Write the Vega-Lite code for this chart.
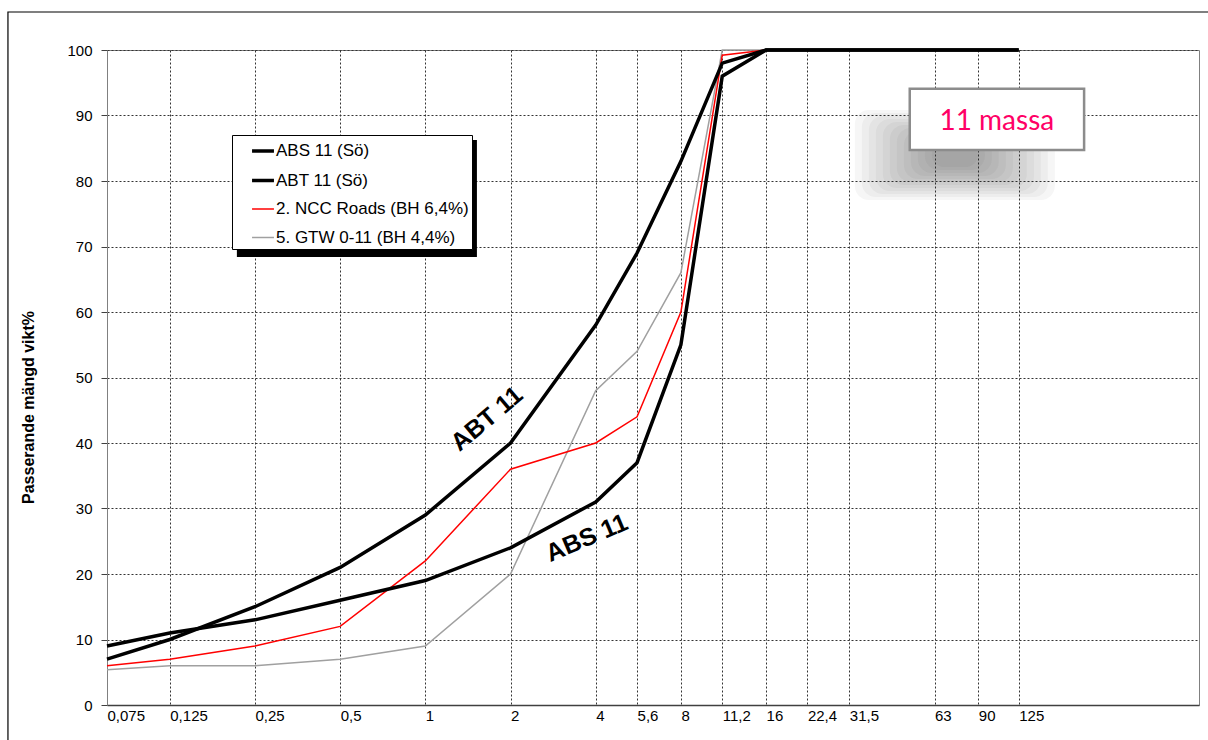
{
  "$schema": "https://vega.github.io/schema/vega-lite/v6.json",
  "width": 1092,
  "height": 655,
  "autosize": {"type": "none"},
  "padding": {"left": 107, "top": 50, "right": 9, "bottom": 35},
  "background": "white",
  "config": {
    "font": "Liberation Sans",
    "view": {"stroke": "#808080", "strokeWidth": 1}
  },
  "encoding": {
    "x": {
      "field": "sieve",
      "type": "quantitative",
      "scale": {"type": "log", "domain": [0.075, 542], "nice": false},
      "axis": {
        "values": [0.075, 0.125, 0.25, 0.5, 1, 2, 4, 5.6, 8, 11.2, 16, 22.4, 31.5, 63, 90, 125],
        "labelExpr": "replace(toString(datum.value), '.', ',')",
        "title": null,
        "ticks": false,
        "tickSize": 0,
        "grid": true,
        "gridDash": [2, 2],
        "gridColor": "#333333",
        "gridWidth": 1,
        "domainColor": "#404040",
        "domainWidth": 1.5,
        "labelAlign": "left",
        "labelDx": 5,
        "labelPadding": 3,
        "labelFontSize": 15,
        "labelColor": "#000000",
        "labelFont": "Liberation Sans",
        "labelOverlap": false,
        "labelFlush": false
      }
    },
    "y": {
      "field": "passing",
      "type": "quantitative",
      "scale": {"domain": [0, 100], "nice": false, "zero": false},
      "axis": {
        "values": [0, 10, 20, 30, 40, 50, 60, 70, 80, 90, 100],
        "title": "Passerande mängd  vikt%",
        "titleFont": "Liberation Sans",
        "titleFontSize": 16,
        "titleFontWeight": "bold",
        "titleColor": "#000000",
        "titleX": -74,
        "titleY": 357,
        "titleAngle": -90,
        "titleAlign": "center",
        "titleBaseline": "alphabetic",
        "grid": true,
        "gridDash": [2, 2],
        "gridColor": "#333333",
        "gridWidth": 1,
        "domainColor": "#808080",
        "tickSize": 6,
        "tickColor": "#404040",
        "labelPadding": 9,
        "labelFontSize": 15,
        "labelColor": "#000000",
        "labelFont": "Liberation Sans"
      }
    }
  },
  "layer": [
    {
      "data": {"values": [{"sieve": 0.0335, "sieve2": 5000, "passing": 105.8, "passing2": -10}]},
      "mark": {"type": "rect", "filled": false, "stroke": "#000000", "strokeWidth": 1.2, "clip": false},
      "encoding": {
        "x2": {"field": "sieve2"},
        "y2": {"field": "passing2"}
      }
    },
    {
      "data": {"values": [
        {"sieve": 32.95, "sieve2": 167.7, "passing": 90.84, "passing2": 77.10},
        {"sieve": 34.88, "sieve2": 158.4, "passing": 90.38, "passing2": 77.56},
        {"sieve": 36.92, "sieve2": 149.6, "passing": 89.92, "passing2": 78.02},
        {"sieve": 39.09, "sieve2": 141.4, "passing": 89.47, "passing2": 78.47},
        {"sieve": 41.38, "sieve2": 133.5, "passing": 89.01, "passing2": 78.93},
        {"sieve": 43.81, "sieve2": 126.1, "passing": 88.55, "passing2": 79.39},
        {"sieve": 46.37, "sieve2": 119.2, "passing": 88.09, "passing2": 79.85},
        {"sieve": 49.10, "sieve2": 112.6, "passing": 87.63, "passing2": 80.31},
        {"sieve": 51.97, "sieve2": 106.3, "passing": 87.18, "passing2": 80.76},
        {"sieve": 55.02, "sieve2": 100.4, "passing": 86.72, "passing2": 81.22},
        {"sieve": 58.24, "sieve2": 94.89, "passing": 86.26, "passing2": 81.68},
        {"sieve": 61.66, "sieve2": 89.63, "passing": 85.80, "passing2": 82.14}
      ]},
      "mark": {"type": "rect", "fill": "#303030", "opacity": 0.045, "cornerRadius": 14, "clip": false},
      "encoding": {
        "x2": {"field": "sieve2"},
        "y2": {"field": "passing2"}
      }
    },
    {
      "data": {"values": [{"sieve": 0.2158, "sieve2": 1.5216, "passing": 86.26, "passing2": 68.4}]},
      "mark": {"type": "rect", "fill": "#000000"},
      "encoding": {
        "x2": {"field": "sieve2"},
        "y2": {"field": "passing2"}
      }
    },
    {
      "data": {"values": [
        {"series": "5. GTW 0-11 (BH 4,4%)", "sieve": 0.075, "passing": 5.4},
        {"series": "5. GTW 0-11 (BH 4,4%)", "sieve": 0.125, "passing": 6},
        {"series": "5. GTW 0-11 (BH 4,4%)", "sieve": 0.25, "passing": 6},
        {"series": "5. GTW 0-11 (BH 4,4%)", "sieve": 0.5, "passing": 7},
        {"series": "5. GTW 0-11 (BH 4,4%)", "sieve": 1, "passing": 9},
        {"series": "5. GTW 0-11 (BH 4,4%)", "sieve": 2, "passing": 20},
        {"series": "5. GTW 0-11 (BH 4,4%)", "sieve": 4, "passing": 48},
        {"series": "5. GTW 0-11 (BH 4,4%)", "sieve": 5.6, "passing": 54},
        {"series": "5. GTW 0-11 (BH 4,4%)", "sieve": 8, "passing": 66},
        {"series": "5. GTW 0-11 (BH 4,4%)", "sieve": 11.2, "passing": 100},
        {"series": "5. GTW 0-11 (BH 4,4%)", "sieve": 16, "passing": 100},
        {"series": "2. NCC Roads (BH 6,4%)", "sieve": 0.075, "passing": 6},
        {"series": "2. NCC Roads (BH 6,4%)", "sieve": 0.125, "passing": 7},
        {"series": "2. NCC Roads (BH 6,4%)", "sieve": 0.25, "passing": 9},
        {"series": "2. NCC Roads (BH 6,4%)", "sieve": 0.5, "passing": 12},
        {"series": "2. NCC Roads (BH 6,4%)", "sieve": 1, "passing": 22},
        {"series": "2. NCC Roads (BH 6,4%)", "sieve": 2, "passing": 36},
        {"series": "2. NCC Roads (BH 6,4%)", "sieve": 4, "passing": 40},
        {"series": "2. NCC Roads (BH 6,4%)", "sieve": 5.6, "passing": 44},
        {"series": "2. NCC Roads (BH 6,4%)", "sieve": 8, "passing": 60},
        {"series": "2. NCC Roads (BH 6,4%)", "sieve": 11.2, "passing": 99.2},
        {"series": "2. NCC Roads (BH 6,4%)", "sieve": 16, "passing": 100},
        {"series": "ABT 11 (Sö)", "sieve": 0.075, "passing": 7},
        {"series": "ABT 11 (Sö)", "sieve": 0.125, "passing": 10},
        {"series": "ABT 11 (Sö)", "sieve": 0.25, "passing": 15},
        {"series": "ABT 11 (Sö)", "sieve": 0.5, "passing": 21},
        {"series": "ABT 11 (Sö)", "sieve": 1, "passing": 29},
        {"series": "ABT 11 (Sö)", "sieve": 2, "passing": 40},
        {"series": "ABT 11 (Sö)", "sieve": 4, "passing": 58},
        {"series": "ABT 11 (Sö)", "sieve": 5.6, "passing": 69},
        {"series": "ABT 11 (Sö)", "sieve": 8, "passing": 83},
        {"series": "ABT 11 (Sö)", "sieve": 11.2, "passing": 98},
        {"series": "ABT 11 (Sö)", "sieve": 16, "passing": 100},
        {"series": "ABT 11 (Sö)", "sieve": 22.4, "passing": 100},
        {"series": "ABT 11 (Sö)", "sieve": 31.5, "passing": 100},
        {"series": "ABT 11 (Sö)", "sieve": 63, "passing": 100},
        {"series": "ABT 11 (Sö)", "sieve": 90, "passing": 100},
        {"series": "ABT 11 (Sö)", "sieve": 125, "passing": 100},
        {"series": "ABS 11 (Sö)", "sieve": 0.075, "passing": 9},
        {"series": "ABS 11 (Sö)", "sieve": 0.125, "passing": 11},
        {"series": "ABS 11 (Sö)", "sieve": 0.25, "passing": 13},
        {"series": "ABS 11 (Sö)", "sieve": 0.5, "passing": 16},
        {"series": "ABS 11 (Sö)", "sieve": 1, "passing": 19},
        {"series": "ABS 11 (Sö)", "sieve": 2, "passing": 24},
        {"series": "ABS 11 (Sö)", "sieve": 4, "passing": 31},
        {"series": "ABS 11 (Sö)", "sieve": 5.6, "passing": 37},
        {"series": "ABS 11 (Sö)", "sieve": 8, "passing": 55},
        {"series": "ABS 11 (Sö)", "sieve": 11.2, "passing": 96},
        {"series": "ABS 11 (Sö)", "sieve": 16, "passing": 100},
        {"series": "ABS 11 (Sö)", "sieve": 22.4, "passing": 100},
        {"series": "ABS 11 (Sö)", "sieve": 31.5, "passing": 100},
        {"series": "ABS 11 (Sö)", "sieve": 63, "passing": 100},
        {"series": "ABS 11 (Sö)", "sieve": 90, "passing": 100},
        {"series": "ABS 11 (Sö)", "sieve": 125, "passing": 100}
      ]},
      "mark": {"type": "line", "clip": false, "strokeJoin": "miter", "strokeCap": "butt"},
      "encoding": {
        "color": {
          "field": "series",
          "type": "nominal",
          "scale": {
            "domain": ["ABS 11 (Sö)", "ABT 11 (Sö)", "2. NCC Roads (BH 6,4%)", "5. GTW 0-11 (BH 4,4%)"],
            "range": ["#000000", "#000000", "#FF0000", "#A0A0A0"]
          },
          "legend": {
            "orient": "none",
            "legendX": 125,
            "legendY": 85,
            "title": null,
            "fillColor": "#FFFFFF",
            "strokeColor": "#000000",
            "padding": 3,
            "labelFontSize": 17,
            "labelColor": "#000000",
            "labelFont": "Liberation Sans",
            "labelLimit": 400,
            "symbolType": "stroke",
            "symbolSize": 480,
            "rowPadding": 8.5,
            "labelOffset": 0,
            "symbolOffset": 15
          }
        },
        "strokeWidth": {
          "field": "series",
          "type": "nominal",
          "scale": {
            "type": "ordinal",
            "domain": ["ABS 11 (Sö)", "ABT 11 (Sö)", "2. NCC Roads (BH 6,4%)", "5. GTW 0-11 (BH 4,4%)"],
            "range": [3.5, 3.5, 1.5, 1.5]
          },
          "legend": {
            "orient": "none",
            "legendX": 125,
            "legendY": 85,
            "title": null,
            "fillColor": "#FFFFFF",
            "strokeColor": "#000000",
            "padding": 3,
            "labelFontSize": 17,
            "labelColor": "#000000",
            "labelFont": "Liberation Sans",
            "labelLimit": 400,
            "symbolType": "stroke",
            "symbolSize": 480,
            "rowPadding": 8.5,
            "labelOffset": 0,
            "symbolOffset": 15
          }
        }
      }
    },
    {
      "data": {"values": [{"sieve": 51.5, "sieve2": 212.8, "passing": 94.09, "passing2": 84.73}]},
      "mark": {"type": "rect", "fill": "#FFFFFF", "stroke": "#8C8C8C", "strokeWidth": 2.5, "clip": false},
      "encoding": {
        "x2": {"field": "sieve2"},
        "y2": {"field": "passing2"}
      }
    },
    {
      "data": {"values": [{"sieve": 104.6, "passing": 87.8, "label": "11 massa"}]},
      "mark": {"type": "text", "font": "Lato", "fontSize": 28, "color": "#FF0066", "align": "center", "baseline": "alphabetic"},
      "encoding": {"text": {"field": "label"}}
    },
    {
      "data": {"values": [{"sieve": 1.65, "passing": 43.7, "label": "ABT 11"}]},
      "mark": {"type": "text", "font": "Liberation Sans", "fontSize": 25, "fontWeight": "bold", "color": "#000000", "align": "center", "baseline": "middle", "angle": -40},
      "encoding": {"text": {"field": "label"}}
    },
    {
      "data": {"values": [{"sieve": 3.72, "passing": 25.5, "label": "ABS 11"}]},
      "mark": {"type": "text", "font": "Liberation Sans", "fontSize": 25, "fontWeight": "bold", "color": "#000000", "align": "center", "baseline": "middle", "angle": -23},
      "encoding": {"text": {"field": "label"}}
    }
  ]
}
